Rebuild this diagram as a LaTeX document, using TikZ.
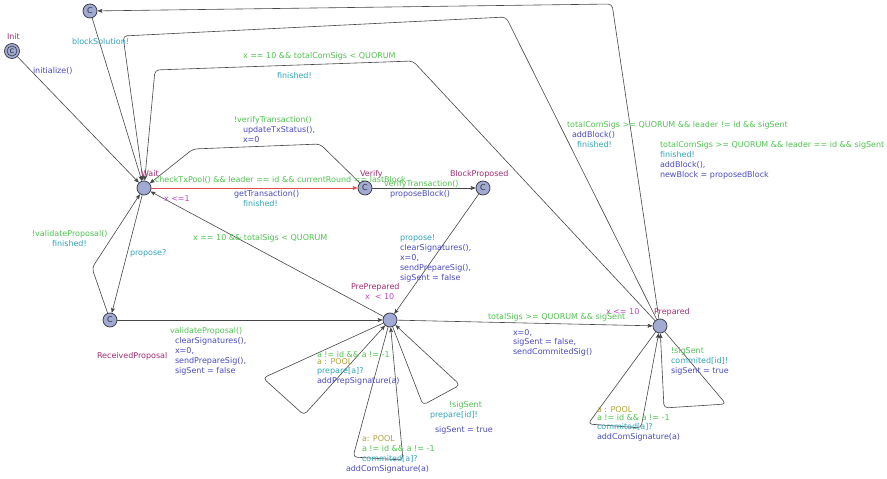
\documentclass[tikz,border=0pt]{standalone}
\usepackage{fontspec}
\setmainfont{DejaVu Sans}
\usetikzlibrary{arrows.meta}
\definecolor{namecol}{RGB}{165,45,115}
\definecolor{invcol}{RGB}{195,70,195}
\definecolor{guardcol}{RGB}{80,195,80}
\definecolor{synccol}{RGB}{50,165,185}
\definecolor{updcol}{RGB}{75,75,195}
\definecolor{selcol}{RGB}{175,165,60}
\definecolor{locfill}{RGB}{160,170,210}
\definecolor{locborder}{RGB}{55,55,65}
\definecolor{edgecol}{RGB}{70,70,70}
\definecolor{redcol}{RGB}{225,75,75}
\tikzset{
  loc/.style={circle, draw=locborder, fill=locfill, minimum size=14pt, inner sep=0pt, line width=0.7pt, font=\fontsize{8}{8}\selectfont, text=black!80},
  lbl/.style={anchor=base west, inner sep=0pt, outer sep=0pt},
  nm/.style={lbl, text=namecol},
  inv/.style={lbl, text=invcol},
  grd/.style={lbl, text=guardcol},
  syn/.style={lbl, text=synccol},
  upd/.style={lbl, text=updcol},
  sel/.style={lbl, text=selcol},
  edge/.style={draw=edgecol, line width=0.6pt, rounded corners=4pt, -{Stealth[length=5pt,width=4pt,inset=1pt]}},
}
\begin{document}
\begin{tikzpicture}[x=1pt,y=-1pt,font=\fontsize{8}{10}\selectfont]
\fill[white] (0,0) rectangle (887,479);
\useasboundingbox (0,0) rectangle (887,479);

% locations
\node[loc] (top) at (90,11) {C};
\node[loc, minimum size=15pt] (init) at (12,51) {};
\node[circle, draw=locborder, line width=0.6pt, minimum size=10pt, inner sep=0pt, font=\fontsize{6}{6}\selectfont] (initin) at (init.center) {C};
\node[loc] (wait) at (144,188) {};
\node[loc] (verify) at (365,188) {C};
\node[loc] (bp) at (483,188) {C};
\node[loc] (rp) at (110,320) {C};
\node[loc] (pre) at (390,320) {};
\node[loc] (prep) at (660,326) {};

% edges
\draw[edge] (init) -- (wait);
\draw[edge] (top) -- (wait);
\draw[edge] (prep) -- (612,4) -- (top);
\draw[edge] (prep) -- (506,17) -- (123,36) -- (wait);
\draw[edge] (prep) -- (413,61) -- (155,70) -- (wait);
\draw[edge, draw=redcol] (wait) -- (verify);
\draw[edge] (verify) -- (320,144) -- (193,149) -- (wait);
\draw[edge] (verify) -- (bp);
\draw[edge] (bp) -- (pre);
\draw[edge] (pre) -- (wait);
\draw[edge] (wait) -- (rp);
\draw[edge] (rp) -- (92,268) -- (wait);
\draw[edge] (rp) -- (pre);
\draw[edge] (pre) -- (prep);
\draw[edge] (pre) -- (263,378) -- (304,415) -- (pre);
\draw[edge] (pre) -- (353,457) -- (403,460) -- (pre);
\draw[edge] (pre) -- (423,405) -- (460,385) -- (pre);
\draw[edge] (prep) -- (588,424) -- (641,428) -- (prep);
\draw[edge] (prep) -- (726,404) -- (664,408) -- (prep);

% names and invariants
\node[nm] (tInit) at (7,39) {Init};
\node[nm] (tWait) at (141,176) {Wait};
\node[nm] (tVerify) at (360,176) {Verify};
\node[nm] (tBP) at (450,176) {BlockProposed};
\node[nm] (tRP) at (97,358) {ReceivedProposal};
\node[nm] (tPre) at (351,289) {PrePrepared};
\node[nm] (tPrep) at (654,314) {Prepared};
\node[inv] (iWait) at (164,201) {x <=1};
\node[inv] (iPre) at (365,299) {x \ < 10};
\node[inv] (iPrep) at (606,314) {x <= 10};

% labels
\node[syn] (a1) at (72,44) {blockSolution!};
\node[upd] (a2) at (33,73) {initialize()};
\node[grd] (a3) at (243,58) {x == 10 \&\& totalComSigs < QUORUM};
\node[syn] (a4) at (277,78) {finished!};
\node[grd] (a5) at (234,122) {!verifyTransaction()};
\node[upd] (a6) at (243,132) {updateTxStatus(),};
\node[upd] (a7) at (243,142) {x=0};
\node[grd] (a8) at (155,182) {checkTxPool() \&\& leader == id \&\& currentRound == lastBlock};
\node[upd] (a9) at (234,196) {getTransaction()};
\node[syn] (a10) at (243,206) {finished!};
\node[grd] (a11) at (384,186) {verifyTransaction()};
\node[upd] (a12) at (390,196) {proposeBlock()};
\node[syn] (a13) at (400,240) {propose!};
\node[upd] (a14) at (400,250) {clearSignatures(),};
\node[upd] (a15) at (400,260) {x=0,};
\node[upd] (a16) at (400,270) {sendPrepareSig(),};
\node[upd] (a17) at (400,280) {sigSent = false};
\node[grd] (a18) at (193,240) {x == 10 \&\& totalSigs < QUORUM};
\node[grd] (a19) at (32,236) {!validateProposal()};
\node[syn] (a20) at (52,246) {finished!};
\node[syn] (a21) at (130,255) {propose?};
\node[grd] (a22) at (170,333) {validateProposal()};
\node[upd] (a23) at (175,343) {clearSignatures(),};
\node[upd] (a24) at (175,353) {x=0,};
\node[upd] (a25) at (175,363) {sendPrepareSig(),};
\node[upd] (a26) at (175,373) {sigSent = false};
\node[grd] (a27) at (317,357) {a != id \&\& a != -1};
\node[sel] (a28) at (317,364) {a : POOL};
\node[syn] (a29) at (317,373) {prepare[a]?};
\node[upd] (a30) at (317,383) {addPrepSignature(a)};
\node[grd] (a31) at (449,407) {!sigSent};
\node[syn] (a32) at (430,417) {prepare[id]!};
\node[upd] (a33) at (435,432) {sigSent = true};
\node[sel] (a34) at (362,441) {a: POOL};
\node[grd] (a35) at (362,451) {a != id \&\& a != -1};
\node[syn] (a36) at (362,461) {commited[a]?};
\node[upd] (a37) at (346,471) {addComSignature(a)};
\node[grd] (a38) at (488,319) {totalSigs >= QUORUM \&\& sigSent};
\node[upd] (a39) at (513,335) {x=0,};
\node[upd] (a40) at (513,344) {sigSent = false,};
\node[upd] (a41) at (513,354) {sendCommitedSig()};
\node[grd] (a42) at (671,353) {!sigSent};
\node[syn] (a43) at (671,363) {commited[id]!};
\node[upd] (a44) at (671,373) {sigSent = true};
\node[sel] (a45) at (597,412) {a : POOL};
\node[grd] (a46) at (597,420) {a != id \&\& a != -1};
\node[syn] (a47) at (597,429) {commited[a]?};
\node[upd] (a48) at (597,439) {addComSignature(a)};
\node[grd] (a49) at (567,127) {totalComSigs >= QUORUM \&\& leader != id \&\& sigSent};
\node[upd] (a50) at (572,137) {addBlock()};
\node[syn] (a51) at (577,147) {finished!};
\node[grd] (a52) at (660,147) {totalComSigs >= QUORUM \&\& leader == id \&\& sigSent};
\node[syn] (a53) at (660,157) {finished!};
\node[upd] (a54) at (660,167) {addBlock(),};
\node[upd] (a55) at (660,177) {newBlock = proposedBlock};
\end{tikzpicture}
\end{document}
